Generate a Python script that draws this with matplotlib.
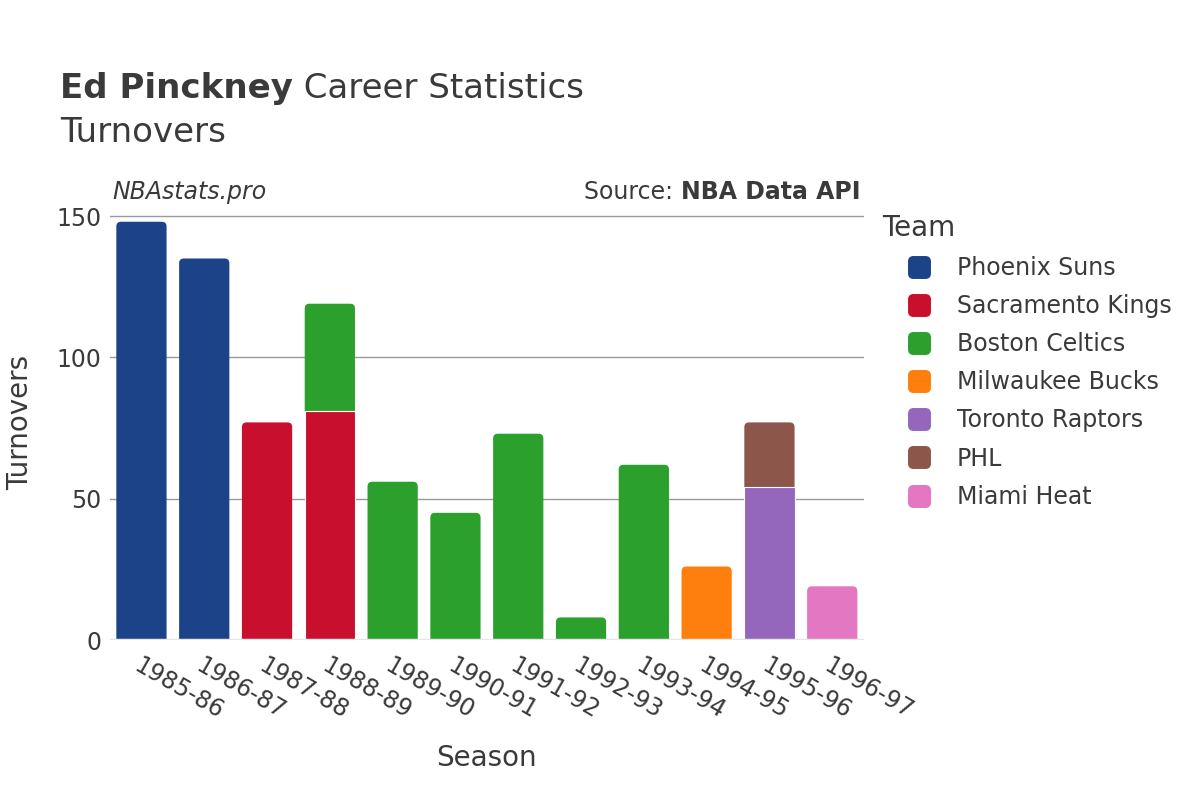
import numpy as np
import matplotlib
matplotlib.use("Agg")
import matplotlib.pyplot as plt
from matplotlib.lines import Line2D
from matplotlib.patches import PathPatch, BoxStyle
from matplotlib.path import Path

plt.rcParams['font.family'] = ['DejaVu Sans']

seasons = ['1985-86', '1986-87', '1987-88', '1988-89', '1989-90', '1990-91',
           '1991-92', '1992-93', '1993-94', '1994-95', '1995-96', '1996-97']
teams = ['Phoenix Suns', 'Sacramento Kings', 'Boston Celtics', 'Milwaukee Bucks',
         'Toronto Raptors', 'PHL', 'Miami Heat']
colors = ['#1c4288', '#c8102e', '#2ca02c', '#ff7f0e', '#9467bd', '#8c564b', '#e377c2']

# turnovers per season, one list per team (stack order = team order)
phx = [148, 135, 0, 0, 0, 0, 0, 0, 0, 0, 0, 0]
sac = [0, 0, 77, 81, 0, 0, 0, 0, 0, 0, 0, 0]
bos = [0, 0, 0, 38, 56, 45, 73, 8, 62, 0, 0, 0]
mil = [0, 0, 0, 0, 0, 0, 0, 0, 0, 26, 0, 0]
tor = [0, 0, 0, 0, 0, 0, 0, 0, 0, 0, 54, 0]
phl = [0, 0, 0, 0, 0, 0, 0, 0, 0, 0, 23, 0]
mia = [0, 0, 0, 0, 0, 0, 0, 0, 0, 0, 0, 19]
series = [phx, sac, bos, mil, tor, phl, mia]

txt = '#3a3a3a'
bw = 0.8

fig = plt.figure(figsize=(12, 8), dpi=100)
ax = fig.add_axes([0.0917, 0.2, 0.628, 0.544])
ax.set_xlim(-0.5, len(seasons) - 0.5)
ax.set_ylim(0, 154)

# y-units per x-unit on screen, so the corners come out round
asp = (154 / (0.544 * 800)) / (len(seasons) / (0.628 * 1200))


def bar_path(xc, b, h, rx):
    x0, x1, top = xc - bw / 2, xc + bw / 2, b + h
    if rx == 0:
        verts = [(x0, b), (x1, b), (x1, top), (x0, top), (x0, b)]
        codes = [Path.MOVETO] + [Path.LINETO] * 3 + [Path.CLOSEPOLY]
        return Path(verts, codes)
    ry = min(rx * asp, h / 2)
    verts = [(x0, b), (x1, b), (x1, top - ry), (x1, top), (x1 - rx, top),
             (x0 + rx, top), (x0, top), (x0, top - ry), (x0, b)]
    codes = [Path.MOVETO, Path.LINETO, Path.LINETO, Path.CURVE3, Path.CURVE3,
             Path.LINETO, Path.CURVE3, Path.CURVE3, Path.CLOSEPOLY]
    return Path(verts, codes)


x = np.arange(len(seasons))
totals = np.sum(np.array(series), axis=0)
bottom = np.zeros(len(seasons))
for vals, col in zip(series, colors):
    for i, v in enumerate(vals):
        if v <= 0:
            continue
        b = bottom[i]
        if b + v < totals[i]:
            ax.add_patch(PathPatch(bar_path(x[i], b, v, 0), facecolor=col,
                                   edgecolor='white', linewidth=0.8, zorder=3))
        else:
            ax.add_patch(PathPatch(bar_path(x[i], b, v, 0.075), facecolor=col,
                                   edgecolor='none', zorder=2.9))
    bottom += np.array(vals)

ax.set_yticks([0, 50, 100, 150])
ax.grid(axis='y', color='#9a9a9a', linewidth=1, zorder=0)
ax.axhline(0, color='#e6e6e6', linewidth=2.5, zorder=4)
for s in ax.spines.values():
    s.set_visible(False)
ax.tick_params(axis='both', length=0, labelsize=17, labelcolor=txt)
ax.tick_params(axis='y', pad=6)
ax.set_xticks(x)
ax.set_xticklabels(seasons, rotation=-30, ha='left', va='top', rotation_mode='anchor')
ax.tick_params(axis='x', pad=10)

ax.set_xlabel('Season', fontsize=20, color=txt, labelpad=14)
ax.set_ylabel('Turnovers', fontsize=20, color=txt, labelpad=16)

r = fig.canvas.get_renderer()
t1 = fig.text(0.05, 0.889, 'Ed Pinckney', fontsize=24.5, fontweight='bold', color=txt, va='center')
w1 = t1.get_window_extent(r).width / 1200
fig.text(0.05 + w1, 0.889, ' Career Statistics', fontsize=24.5, color=txt, va='center')
fig.text(0.05, 0.834, 'Turnovers', fontsize=24.5, color=txt, va='center')

fig.text(0.094, 0.76, 'NBAstats.pro', fontsize=17, style='italic', color=txt, va='center')
t2 = fig.text(0.717, 0.76, 'NBA Data API', fontsize=17, fontweight='bold', color=txt,
              va='center', ha='right')
w2 = t2.get_window_extent(r).width / 1200
fig.text(0.717 - w2, 0.76, 'Source: ', fontsize=17, color=txt, va='center', ha='right')

# rounded square marker for the legend
rsq = BoxStyle.Round(pad=0, rounding_size=0.22)(-0.5, -0.5, 1, 1, 1.0)
handles = [Line2D([0], [0], marker=rsq, linestyle='none', markersize=15.5,
                  markerfacecolor=c, markeredgecolor=c) for c in colors]
leg = fig.legend(handles, teams, loc='upper left', bbox_to_anchor=(0.7355, 0.733),
                 frameon=False, fontsize=17, title='Team', title_fontsize=20,
                 labelspacing=0.6, handletextpad=0.05, handlelength=3.1,
                 borderaxespad=0, borderpad=0)
leg._legend_box.align = 'left'
for t in leg.get_texts():
    t.set_color(txt)
leg.get_title().set_color(txt)

fig.savefig('out.png', dpi=100)
